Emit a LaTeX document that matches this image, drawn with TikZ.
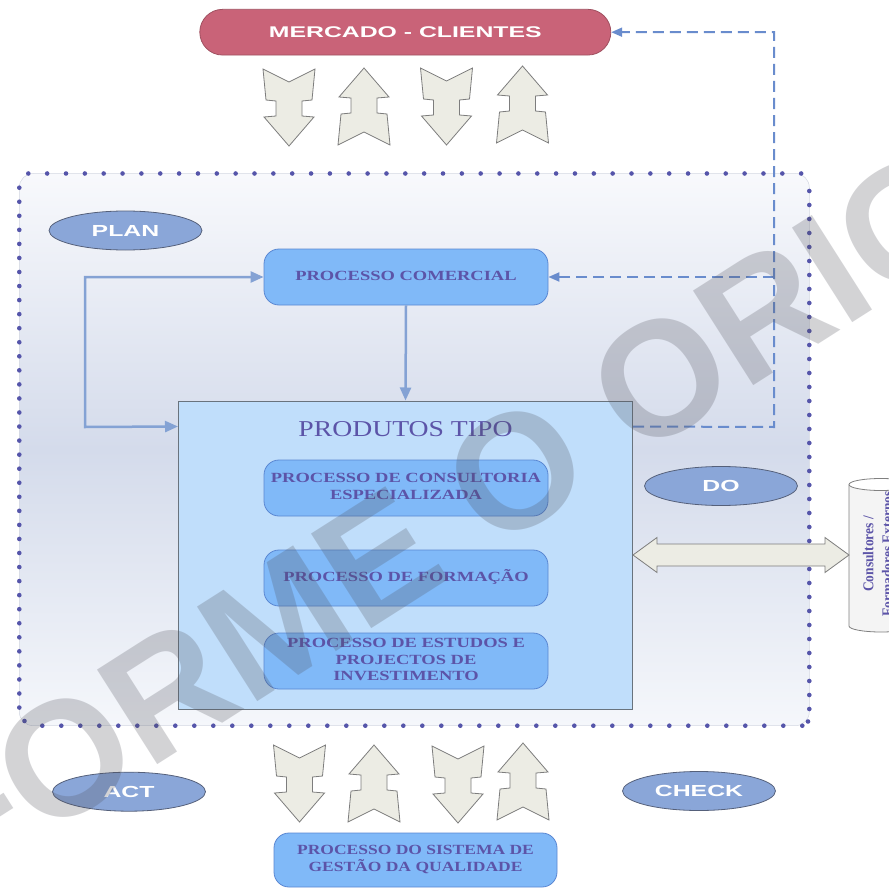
\documentclass[tikz,border=0pt]{standalone}
\usepackage{fontspec}
\setmainfont{Liberation Serif}
\setsansfont{Liberation Sans}
\usepackage{graphicx}
\usetikzlibrary{shapes.geometric,arrows.meta,calc}

\definecolor{mercred}{HTML}{C96378}
\definecolor{mercborder}{HTML}{A05060}
\definecolor{ellfill}{HTML}{8AA6D8}
\definecolor{ellborder}{HTML}{55607A}
\definecolor{boxfill}{HTML}{80B9F8}
\definecolor{boxborder}{HTML}{5A87D2}
\definecolor{prodfill}{HTML}{C0DEFB}
\definecolor{prodborder}{HTML}{69737D}
\definecolor{txtpurple}{HTML}{5C54A8}
\definecolor{connc}{HTML}{84A2D4}
\definecolor{dashc}{HTML}{698CCD}
\definecolor{arrfill}{HTML}{ECECE4}
\definecolor{arrborder}{HTML}{7D7D7D}
\definecolor{dotc}{HTML}{5555AA}
\definecolor{frametop}{HTML}{F8F9FC}
\definecolor{framemid}{HTML}{D4DBEB}
\definecolor{framebot}{HTML}{F5F7FB}
\definecolor{framegray}{HTML}{D4D8E2}
\definecolor{cylfill}{HTML}{F4F4F4}
\definecolor{cylborder}{HTML}{808080}
\definecolor{wmgray}{HTML}{50505A}

\newcommand{\wtxt}[2]{\scalebox{#1}[1]{\begin{tabular}{@{}c@{}}#2\end{tabular}}}

\tikzset{
  pill/.style={draw=mercborder, line width=0.8pt, fill=mercred, rounded corners=22.8pt,
    minimum width=411pt, minimum height=45.7pt, inner sep=0pt, text=white,
    font=\sffamily\bfseries\fontsize{15.5}{18}\selectfont},
  phase/.style={ellipse, draw=ellborder, line width=0.8pt, fill=ellfill,
    minimum width=153pt, minimum height=39pt, inner sep=0pt, text=white,
    font=\sffamily\bfseries\fontsize{16}{19}\selectfont},
  procbox/.style={draw=boxborder, line width=0.8pt, fill=boxfill, rounded corners=15pt,
    minimum width=284pt, minimum height=56pt, inner sep=0pt, text=txtpurple,
    font=\bfseries\fontsize{14}{16.8}\selectfont},
  prodbox/.style={draw=prodborder, line width=1pt, fill=prodfill,
    minimum width=454pt, minimum height=308pt, inner sep=0pt},
  titletxt/.style={inner sep=0pt, text=txtpurple, font=\fontsize{22.7}{26}\selectfont},
  cyltxt/.style={inner sep=0pt, text=txtpurple, font=\bfseries\fontsize{15}{19}\selectfont},
  conn/.style={draw=connc, line width=2.5pt},
  dashconn/.style={draw=dashc, line width=2pt, dash pattern=on 11pt off 6pt},
  blockarrow/.style={draw=arrborder, line width=0.8pt, fill=arrfill, line join=miter},
  wmark/.style={inner sep=0pt, text=wmgray, text opacity=0.25,
    font=\sffamily\bfseries\fontsize{163}{163}\selectfont},
  darrow/.pic={\path[blockarrow] (-26,0) -- (0,13) -- (26,0) -- (23,31) -- (13,32) -- (13,47)
     -- (25,48) -- (0,77) -- (-25,48) -- (-13,47) -- (-13,32) -- (-23,31) -- cycle;},
  uarrow/.pic={\path[blockarrow] (-26,77) -- (0,64) -- (26,77) -- (23,46) -- (13,45) -- (13,30)
     -- (25,29) -- (0,0) -- (-25,29) -- (-13,30) -- (-13,45) -- (-23,46) -- cycle;}
}

\begin{document}
\begin{tikzpicture}[x=1pt,y=-1pt]
\useasboundingbox (0,0) rectangle (889,888);
\clip (0,0) rectangle (889,888);
\fill[white] (0,0) rectangle (889,888);

% frame
\path[draw=framegray, line width=0.5pt, rounded corners=14pt,
  top color=frametop, bottom color=framebot, middle color=framemid]
  (19.3,173.5) rectangle (809.3,725.7);
\foreach \i in {0,...,41} \fill[dotc] ({28.3+18.85*\i},173.5) circle (2.3pt);
\foreach \i in {0,...,40} \fill[dotc] ({42.3+19*\i},725.7) circle (2.3pt);
\foreach \i in {0,...,37} \fill[dotc] (19.3,{187.7+14.05*\i}) circle (2.3pt);
\foreach \i in {0,...,37} \fill[dotc] (809.3,{191+14*\i}) circle (2.3pt);
\fill[dotc] (24.5,721) circle (2.3pt);
\fill[dotc] (808,721.5) circle (2.3pt);

% nodes
\node[pill] (mercado) at (405.3,32.2) {\scalebox{1.6}[1]{MERCADO - CLIENTES}};
\node[phase] (plan) at (125.5,230.5) {\scalebox{1.55}[1]{PLAN}};
\node[phase] (do) at (721,486) {\scalebox{1.55}[1]{DO}};
\node[phase] (act) at (129,791.7) {\scalebox{1.55}[1]{ACT}};
\node[phase] (check) at (699,791) {\scalebox{1.55}[1]{CHECK}};

\node[procbox] (comercial) at (406,277) {\wtxt{1.32}{PROCESSO COMERCIAL}};
\node[prodbox] (produtos) at (405.5,555) {};
\node[titletxt] (ptitle) at (405.5,429) {\scalebox{1.22}[1]{PRODUTOS TIPO}};
\node[procbox] (consult) at (406,488) {\wtxt{1.32}{PROCESSO DE CONSULTORIA\\ESPECIALIZADA}};
\node[procbox] (formacao) at (406,578) {\wtxt{1.32}{PROCESSO DE FORMAÇÃO}};
\node[procbox, font=\bfseries\fontsize{14}{16.5}\selectfont] (estudos) at (406,661)
  {\wtxt{1.32}{PROCESSO DE ESTUDOS E\\PROJECTOS DE\\INVESTIMENTO}};
\node[procbox, minimum width=283pt, minimum height=54pt, font=\bfseries\fontsize{14}{16}\selectfont]
  (sgq) at (415.5,860) {\wtxt{1.25}{PROCESSO DO SISTEMA DE\\GESTÃO DA QUALIDADE}};

% connectors
\coordinate (pl) at ($(produtos.north west)+(0,26)$);
\coordinate (pr) at ($(produtos.north east)+(0,26)$);
\coordinate (l1) at (85,277);
\coordinate (l2) at (85,427);
\draw[conn, {Triangle[length=13pt,width=11pt]}-{Triangle[length=13pt,width=11pt]}]
  (comercial.west) -- (l1) -- (l2) -- (pl);
\draw[conn, -{Triangle[length=13pt,width=11pt]}] (comercial.south) -- (produtos.north);

\coordinate (d1) at (774,427);
\coordinate (d2) at (774,32.2);
\coordinate (d3) at (774,277);
\draw[dashconn, -{Triangle[length=11pt,width=9pt]}] (pr) -- (d1) -- (d2) -- (mercado.east);
\draw[dashconn, -{Triangle[length=11pt,width=9pt]}] (d3) -- (comercial.east);

% block arrows top
\pic at (289,69) {darrow};
\pic at (364,68) {uarrow};
\pic at (446.5,68) {darrow};
\pic at (522.5,66) {uarrow};
% block arrows bottom
\pic at (299.5,745) {darrow};
\pic at (374,745) {uarrow};
\pic at (458,746) {darrow};
\pic at (523,743) {uarrow};

% cylinder
\coordinate (cylw) at (849,555);
\fill[cylfill] (849,484.5) -- (849,626) arc[start angle=180, end angle=360, x radius=32pt, y radius=6pt] -- (913,484.5) -- cycle;
\draw[cylborder, line width=0.8pt] (849,484.5) -- (849,626) arc[start angle=180, end angle=360, x radius=32pt, y radius=6pt] -- (913,484.5);
\draw[cylborder, line width=0.8pt, fill=white] (881,484.5) ellipse [x radius=32pt, y radius=6pt];
\node[cyltxt, rotate=90] (cyltext) at (879,554) {\wtxt{0.9}{Consultores /\\Formadores Externos}};

% double arrow
\path[blockarrow] (produtos.east) -- ++(24,-17.5) -- ++(0,6.5) -- ($(cylw)+(-24,-11)$) -- ++(0,-6.5)
  -- (cylw) -- ++(-24,17.5) -- ++(0,-6.5) -- ($(produtos.east)+(24,11)$) -- ++(0,6.5) -- cycle;

% watermark
\node[wmark, rotate=32.5] (wm) at (451,512) {CONFORME O ORIGINAL};
\end{tikzpicture}
\end{document}
